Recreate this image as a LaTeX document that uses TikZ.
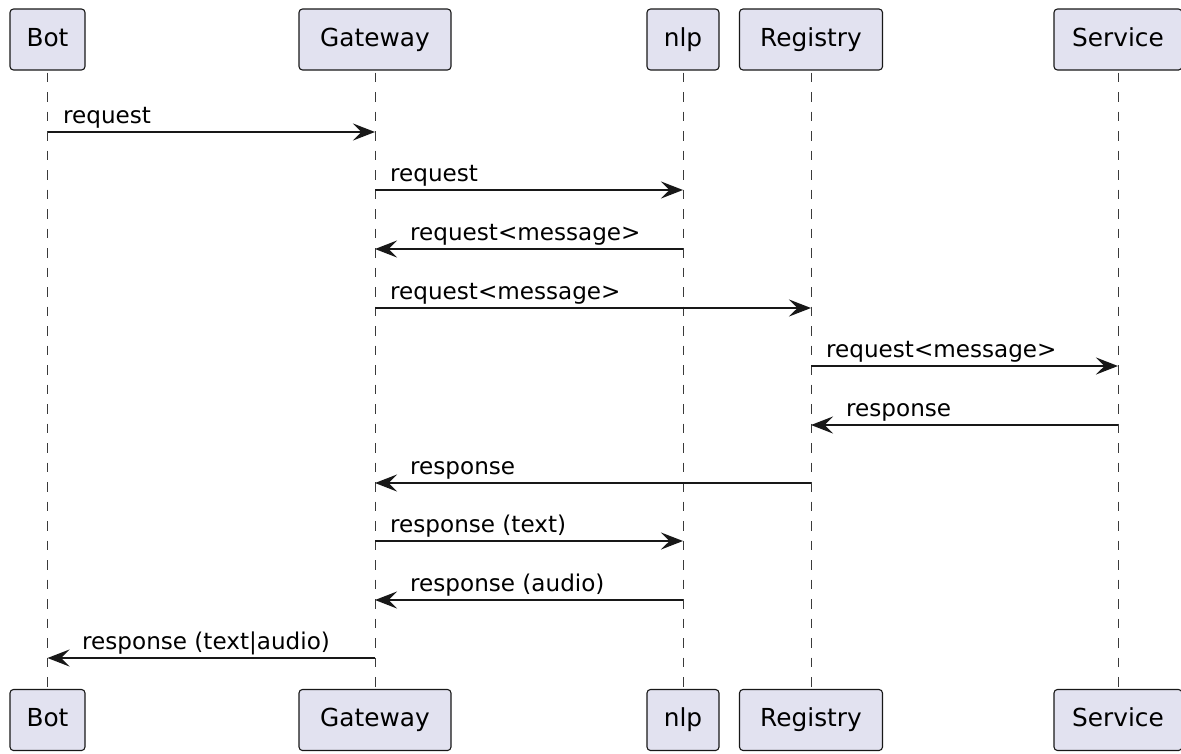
\documentclass[tikz,border=0pt]{standalone}
\usepackage{fontspec}
\usetikzlibrary{arrows.meta}
\newfontfamily\djsans{DejaVu Sans}
\definecolor{ink}{HTML}{181818}
\definecolor{boxfill}{HTML}{E2E2F0}
\definecolor{lifegray}{HTML}{3A3A3A}
\tikzset{
  part/.style={draw=ink, fill=boxfill, rounded corners=3.5pt, line width=1.1pt,
    minimum height=61pt, inner sep=0pt, text=black,
    text height=18pt, text depth=5pt,
    font=\djsans\fontsize{24.8}{28}\selectfont},
  life/.style={draw=lifegray, dash pattern=on 9.5pt off 10pt, dash phase=-2pt, line width=1pt},
  msg/.style={draw=ink, line width=2pt, -{Stealth[length=22pt,width=17pt,inset=8.5pt]}},
  lbl/.style={anchor=base west, inner sep=0pt, text=black,
    font=\djsans\fontsize{23.1}{26}\selectfont}
}
\begin{document}
\begin{tikzpicture}[x=1pt,y=-1pt]
\useasboundingbox (0,0) rectangle (1181,753);
% participants (top)
\node[part, minimum width=75pt]  (botT) at (47.5,39.5)  {Bot};
\node[part, minimum width=152pt] (gwT)  at (375,39.5)   {Gateway};
\node[part, minimum width=72pt]  (nlpT) at (683,39.5)   {nlp};
\node[part, minimum width=143pt] (regT) at (811,39.5)   {Registry};
\node[part, minimum width=128pt] (svcT) at (1118,39.5)  {Service};
% participants (bottom)
\node[part, minimum width=75pt]  (botB) at (47.5,720)  {Bot};
\node[part, minimum width=152pt] (gwB)  at (375,720)   {Gateway};
\node[part, minimum width=72pt]  (nlpB) at (683,720)   {nlp};
\node[part, minimum width=143pt] (regB) at (811,720)   {Registry};
\node[part, minimum width=128pt] (svcB) at (1118,720)  {Service};
% lifelines
\draw[life] (botT.south) -- (botB.north);
\draw[life] (gwT.south)  -- (gwB.north);
\draw[life] (nlpT.south) -- (nlpB.north);
\draw[life] (regT.south) -- (regB.north);
\draw[life] (svcT.south) -- (svcB.north);
% messages
\draw[msg] (botT.south |- 0,132) -- (gwT.south |- 0,132);
\node[lbl] (l1) at (63,123) {request};
\draw[msg] (gwT.south |- 0,190) -- (nlpT.south |- 0,190);
\node[lbl] (l2) at (390,181) {request};
\draw[msg] (nlpT.south |- 0,249) -- (gwT.south |- 0,249);
\node[lbl] (l3) at (410,240) {request<message>};
\draw[msg] (gwT.south |- 0,308) -- (regT.south |- 0,308);
\node[lbl] (l4) at (390,299) {request<message>};
\draw[msg] (regT.south |- 0,366) -- (svcT.south |- 0,366);
\node[lbl] (l5) at (826,357) {request<message>};
\draw[msg] (svcT.south |- 0,425) -- (regT.south |- 0,425);
\node[lbl] (l6) at (846,416) {response};
\draw[msg] (regT.south |- 0,483) -- (gwT.south |- 0,483);
\node[lbl] (l7) at (410,474) {response};
\draw[msg] (gwT.south |- 0,541) -- (nlpT.south |- 0,541);
\node[lbl] (l8) at (390,532) {response (text)};
\draw[msg] (nlpT.south |- 0,600) -- (gwT.south |- 0,600);
\node[lbl] (l9) at (410,591) {response (audio)};
\draw[msg] (gwT.south |- 0,658) -- (botT.south |- 0,658);
\node[lbl] (l10) at (82,649) {response (text|audio)};
\end{tikzpicture}
\end{document}
